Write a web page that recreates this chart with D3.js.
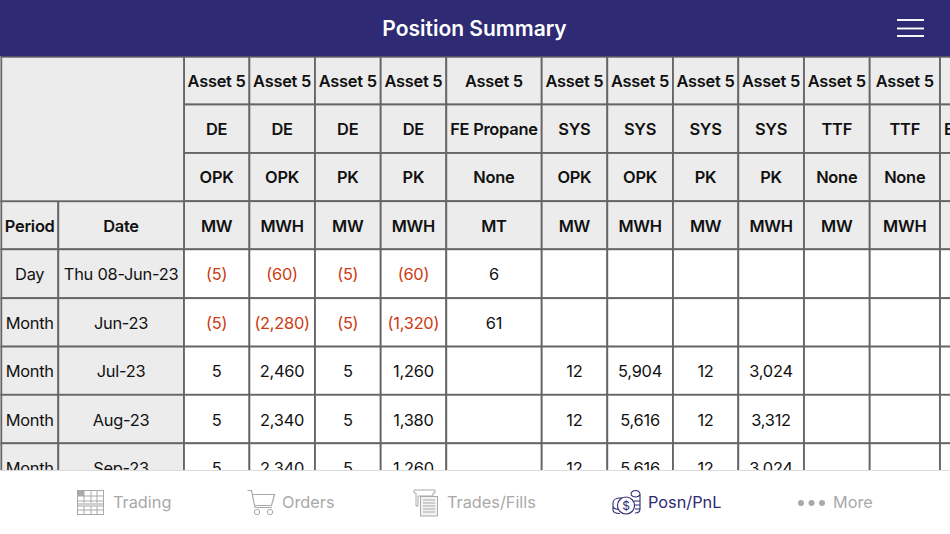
<!DOCTYPE html>
<html><head><meta charset="utf-8">
<script src="https://cdn.jsdelivr.net/npm/d3@7"></script>
<style>html,body{margin:0;padding:0;background:#fff;overflow:hidden}svg{display:block}text{font-family:Inter,"Noto Sans",sans-serif}</style>
</head><body><svg id="c" width="950" height="534"></svg>
<script>
const title = "Position Summary";
const assets = ["Asset 5","Asset 5","Asset 5","Asset 5","Asset 5","Asset 5","Asset 5","Asset 5","Asset 5","Asset 5","Asset 5",""];
const regions = ["DE","DE","DE","DE","FE Propane","SYS","SYS","SYS","SYS","TTF","TTF","E"];
const peaks = ["OPK","OPK","PK","PK","None","OPK","OPK","PK","PK","None","None",""];
const units = ["MW","MWH","MW","MWH","MT","MW","MWH","MW","MWH","MW","MWH",""];
const periods = ["Day","Month","Month","Month","Month"];
const dates = ["Thu 08-Jun-23","Jun-23","Jul-23","Aug-23","Sep-23"];
const day = [-5,-60,-5,-60,6,null,null,null,null,null,null,null];
const jun = [-5,-2280,-5,-1320,61,null,null,null,null,null,null,null];
const jul = [5,2460,5,1260,null,12,5904,12,3024,null,null,null];
const aug = [5,2340,5,1380,null,12,5616,12,3312,null,null,null];
const sep = [5,2340,5,1260,null,12,5616,12,3024,null,null,null];
const tabs = ["Trading","Orders","Trades/Fills","Posn/PnL","More"];

// layout
const colEdges = [1.3,58.3,184,249.4,315,380.7,446.3,541.7,607.3,673,738.3,804,869.7,940,958];
const rowEdges = [56.8,104.5,153,201.2,249.3,298.2,346.6,394.8,443.3,491];
const HEAD="#2e2a74", GRID="#656565", CELL="#ececec", RED="#cc3a12", INK="#111", TAB="#a9a9a9";
const svg = d3.select("#c");
const cols = d3.range(colEdges.length-1);
const xL = d3.scaleOrdinal(cols, colEdges.slice(0,-1));
const xR = d3.scaleOrdinal(cols, colEdges.slice(1));
const cx = i => (xL(i)+xR(i))/2;
const rows = d3.range(rowEdges.length-1);
const yT = d3.scaleOrdinal(rows, rowEdges.slice(0,-1));
const yB = d3.scaleOrdinal(rows, rowEdges.slice(1));
const cy = r => (yT(r)+yB(r))/2;
const fmt = v => v==null ? "" : v<0 ? "("+d3.format(",")(-v)+")" : d3.format(",")(v);

const cells = [];
[assets,regions,peaks,units].forEach((arr,r)=>arr.forEach((t,i)=>cells.push({c:i+2,r,t,fill:CELL,bold:true})));
cells.push({c:0,r:3,t:"Period",fill:CELL,bold:true},{c:1,r:3,t:"Date",fill:CELL,bold:true});
[day,jun,jul,aug,sep].forEach((arr,k)=>{
  const r=k+4;
  cells.push({c:0,r,t:periods[k],fill:CELL},{c:1,r,t:dates[k],fill:CELL});
  arr.forEach((v,i)=>cells.push({c:i+2,r,t:fmt(v),fill:"#fff",color:v<0?RED:INK}));
});

const table = svg.append("g");
table.selectAll("rect.cell").data(cells).join("rect").attr("class","cell")
  .attr("x",d=>xL(d.c)).attr("y",d=>yT(d.r)).attr("width",d=>xR(d.c)-xL(d.c)).attr("height",d=>yB(d.r)-yT(d.r))
  .attr("fill",d=>d.fill).attr("stroke",GRID).attr("stroke-width",1.8);
table.append("rect").attr("x",xL(0)).attr("y",yT(0)).attr("width",xR(1)-xL(0)).attr("height",yB(2)-yT(0))
  .attr("fill",CELL).attr("stroke",GRID).attr("stroke-width",1.8);
table.selectAll("text.cell").data(cells).join("text").attr("class","cell")
  .attr("x",d=>cx(d.c)-0.1).attr("y",d=>cy(d.r)+6.6-(d.r<3?0.5:0)).attr("text-anchor","middle")
  .attr("font-size",16.4).attr("letter-spacing",-0.25).attr("font-weight",d=>d.bold?600:400).attr("fill",d=>d.color||INK).text(d=>d.t);

svg.append("rect").attr("width",950).attr("height",56.3).attr("fill",HEAD);
svg.append("text").attr("x",474.500).attr("y",36).attr("text-anchor","middle").attr("font-size",21).attr("font-weight",600).attr("fill","#fff").text(title);
svg.selectAll("line.menu").data([20,28.5,36]).join("line").attr("class","menu")
  .attr("x1",897).attr("x2",924).attr("y1",d=>d).attr("y2",d=>d).attr("stroke","#fff").attr("stroke-width",1.9);

svg.append("rect").attr("y",470).attr("width",950).attr("height",64).attr("fill","#fff");
svg.append("line").attr("x1",0).attr("x2",950).attr("y1",470.5).attr("y2",470.5).attr("stroke","#dcdcdc");
const tabX = d3.scaleOrdinal(tabs,[113,282,447,648,833]);
svg.selectAll("text.tab").data(tabs).join("text").attr("class","tab")
  .attr("x",d=>tabX(d)).attr("y",508).attr("font-size",16.3).attr("fill",d=>d==="Posn/PnL"?HEAD:TAB).text(d=>d);

const ic = svg.append("g").attr("fill","none").attr("stroke",TAB).attr("stroke-width",1);
const tr = ic.append("g");
tr.append("rect").attr("x",77.5).attr("y",490.5).attr("width",26).attr("height",24);
[496,501,506,510].forEach(y=>tr.append("line").attr("x1",77.5).attr("x2",103.5).attr("y1",y).attr("y2",y));
[84,91,97].forEach(x=>tr.append("line").attr("x1",x).attr("x2",x).attr("y1",490.5).attr("y2",514.5));
tr.append("rect").attr("x",77.5).attr("y",490.5).attr("width",6).attr("height",5).attr("fill",TAB);
tr.append("rect").attr("x",78).attr("y",503).attr("width",25).attr("height",3).attr("fill","#d0d0d0").attr("stroke","none");
ic.append("path").attr("d","M247.5 490.5h4l3.5 17h17M252.5 494.5h22l-3 11h-17").attr("stroke-width",1.2);
ic.append("circle").attr("cx",257).attr("cy",512).attr("r",2.7);
ic.append("circle").attr("cx",270).attr("cy",512).attr("r",2.7);
const rc = ic.append("g");
rc.append("path").attr("d","M414 490h21v3h-2v3h-15v10h-2v-13h-2z");
rc.append("rect").attr("x",420.5).attr("y",496.5).attr("width",17).attr("height",19.5).attr("fill","#f2f2f2");
[500,503,506,509,512].forEach(y=>rc.append("line").attr("x1",423).attr("x2",435).attr("y1",y).attr("y2",y));
const co = svg.append("g").attr("fill","none").attr("stroke",HEAD).attr("stroke-width",1.1);
co.append("path").attr("d","M613 503c0-3 3-5 7-5h6M613 503v7c0 2 3 3.500 7 3.500M613 506c0 2 2 3 5 3.500M631 494c0-2.500 3-3.500 4.500-3.500s4.500 1 4.500 3.500v15c0 3-3 4-5 4M631 494c0 2 3 3 4.500 3s4.500-1 4.500-3M634 501h6M635 505h5M635 509h5");
co.append("circle").attr("cx",626).attr("cy",505.500).attr("r",8.500).attr("fill","#fff");
co.append("text").attr("x",626).attr("y",510).attr("text-anchor","middle").attr("font-size",12).attr("fill",HEAD).attr("stroke","none").text("$");
svg.selectAll("circle.more").data([801,811.500,822]).join("circle").attr("class","more")
  .attr("cx",d=>d).attr("cy",503).attr("r",3).attr("fill",TAB);
</script></body></html>
